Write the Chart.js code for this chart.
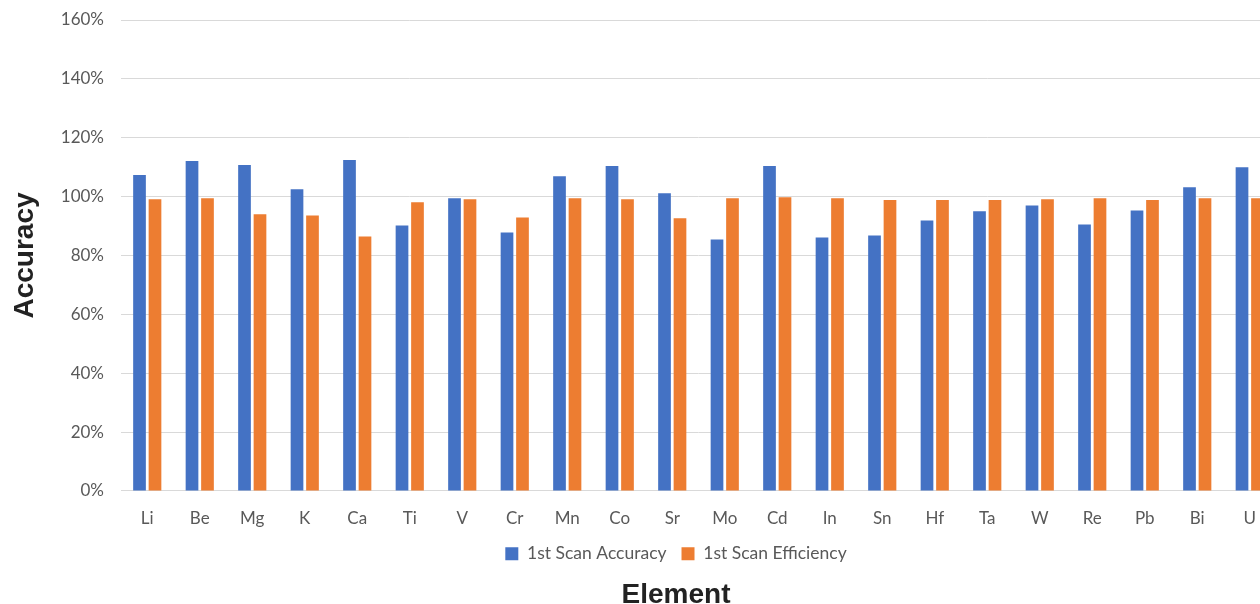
<!DOCTYPE html>
<html>
<head>
<meta charset="utf-8">
<script src="https://cdn.jsdelivr.net/npm/chart.js@4"></script>
<style>
  html, body { margin: 0; padding: 0; background: #fff; overflow: hidden; }
  #wrap { position: relative; width: 1352px; height: 612px; }
</style>
</head>
<body>
<div id="wrap"><canvas id="chart"></canvas></div>
<script>
// data (percent)
const elements = ['Li', 'Be', 'Mg', 'K', 'Ca', 'Ti', 'V', 'Cr', 'Mn', 'Co', 'Sr',
    'Mo', 'Cd', 'In', 'Sn', 'Hf', 'Ta', 'W', 'Re', 'Pb', 'Bi', 'U'];
const scanAccuracy = [107.3, 112.1, 110.7, 102.5, 112.4, 90.2, 99.4, 87.8, 106.9, 110.4, 101.1,
    85.4, 110.4, 86.1, 86.8, 91.9, 95.0, 97.0, 90.5, 95.3, 103.2, 110.0];
const scanEfficiency = [99.1, 99.4, 94.0, 93.6, 86.4, 98.1, 99.1, 92.9, 99.4, 99.1, 92.6,
    99.4, 99.8, 99.4, 98.8, 98.8, 98.8, 99.1, 99.4, 98.8, 99.4, 99.4];
const yTicks = [0, 20, 40, 60, 80, 100, 120, 140, 160];

const grey = '#595959';
const gridGrey = '#d9d9d9';

const ctx = document.getElementById('chart').getContext('2d');
new Chart(ctx, {
    type: 'bar',
    data: {
        labels: elements,
        datasets: [{
            label: '1st Scan Accuracy',
            data: scanAccuracy,
            backgroundColor: '#4472C4',
            barPercentage: 0.82,
            categoryPercentage: 0.59
        }, {
            label: '1st Scan Efficiency',
            data: scanEfficiency,
            backgroundColor: '#ED7D31',
            barPercentage: 0.82,
            categoryPercentage: 0.59
        }]
    },
    options: {
        responsive: true,
        maintainAspectRatio: false,
        animation: false,
        layout: { padding: { top: 20, right: 0, bottom: 0, left: 0 } },
        plugins: {
            tooltip: { enabled: false },
            legend: {
                position: 'bottom',
                weight: 1000,
                labels: {
                    boxWidth: 13,
                    boxHeight: 13,
                    padding: 15,
                    color: grey,
                    font: { family: 'Lato', size: 17.5 }
                }
            },
            title: {
                display: true,
                text: 'Element',
                position: 'bottom',
                weight: 2000,
                padding: { top: 6, bottom: 0 },
                color: '#222',
                font: { family: 'Liberation Sans', size: 28, weight: 'bold' }
            }
        },
        scales: {
            x: {
                grid: { display: false, drawTicks: false },
                border: { display: true, color: gridGrey },
                afterFit: scale => { scale.height = 39; },
                ticks: {
                    padding: 17,
                    color: grey,
                    font: { family: 'Lato', size: 17 },
                    maxRotation: 0
                }
            },
            y: {
                min: 0,
                max: 160,
                afterBuildTicks: scale => { scale.ticks = yTicks.map(v => ({ value: v })); },
                afterFit: scale => {
                    scale.width = 121;
                    scale.paddingTop = 10;
                    scale.paddingBottom = 10;
                },
                grid: { color: gridGrey, drawTicks: false },
                border: { display: false },
                ticks: {
                    padding: 17,
                    color: grey,
                    font: { family: 'Lato', size: 17 },
                    callback: v => v + '%'
                },
                title: {
                    display: true,
                    text: 'Accuracy',
                    color: '#222',
                    padding: { top: 8, bottom: 0 },
                    font: { family: 'Liberation Sans', size: 28, weight: 'bold' }
                }
            },
            // empty right-hand margin (the original chart runs past the picture edge)
            yRight: {
                position: 'right',
                display: true,
                grid: { display: false },
                border: { display: false },
                ticks: { display: false },
                afterFit: scale => { scale.width = 76; }
            }
        }
    }
});
</script>
</body>
</html>
